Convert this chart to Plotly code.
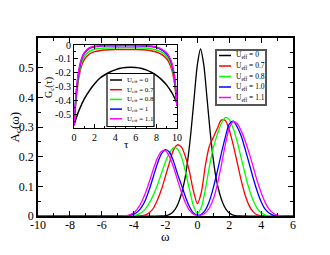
import plotly.graph_objects as go

# ---------------- data ----------------
omega = [-10, -4.75, -4.5, -4.25, -4.0, -3.75, -3.5, -3.25, -3.0, -2.75, -2.5, -2.25, -2.0,
         -1.75, -1.5, -1.25, -1.0, -0.75, -0.5, -0.25, 0.0, 0.25, 0.5, 0.75, 1.0, 1.25,
         1.5, 1.75, 2.0, 2.25, 2.5, 2.75, 3.0, 3.25, 3.5, 3.75, 4.0, 4.25, 4.5, 4.75,
         5.0, 5.25, 5.5, 6]
A_u07 = [0, 0, 0, 0, 0, 0, 0.001, 0.004, 0.012, 0.027, 0.055, 0.09, 0.135, 0.18, 0.222, 0.24,
         0.232, 0.2, 0.15, 0.085, 0.042, 0.08, 0.17, 0.235, 0.265, 0.295, 0.323, 0.322, 0.29,
         0.24, 0.18, 0.12, 0.07, 0.035, 0.014, 0.004, 0.001, 0, 0, 0, 0, 0, 0, 0]
A_u08 = [0, 0, 0, 0, 0.002, 0.005, 0.012, 0.025, 0.045, 0.072, 0.105, 0.145, 0.183, 0.213,
         0.23, 0.226, 0.2, 0.15, 0.09, 0.035, 0.008, 0.03, 0.09, 0.165, 0.23, 0.275, 0.312,
         0.332, 0.325, 0.295, 0.25, 0.195, 0.14, 0.09, 0.052, 0.026, 0.011, 0.004, 0.001, 0,
         0, 0, 0, 0]
A_u10 = [0, 0, 0, 0.002, 0.006, 0.014, 0.03, 0.055, 0.092, 0.135, 0.178, 0.21, 0.224, 0.215,
         0.185, 0.142, 0.105, 0.065, 0.032, 0.01, 0.003, 0.006, 0.02, 0.05, 0.095, 0.15, 0.21,
         0.265, 0.31, 0.32, 0.3, 0.27, 0.225, 0.177, 0.128, 0.084, 0.048, 0.023, 0.01, 0.003,
         0, 0, 0, 0]
A_u11 = [0, 0, 0.001, 0.004, 0.011, 0.025, 0.047, 0.079, 0.118, 0.16, 0.196, 0.218, 0.22,
         0.2, 0.165, 0.122, 0.08, 0.045, 0.02, 0.006, 0.002, 0.003, 0.01, 0.027, 0.057, 0.106,
         0.17, 0.24, 0.296, 0.318, 0.311, 0.287, 0.253, 0.212, 0.166, 0.119, 0.079, 0.046,
         0.023, 0.01, 0.003, 0.001, 0, 0]

omega_u0 = [-10, -2.2, -2.0, -1.8, -1.6, -1.4, -1.2, -1.0, -0.8, -0.6, -0.4, -0.2, 0.0, 0.2,
            0.4, 0.6, 0.8, 1.0, 1.2, 1.4, 1.6, 1.8, 2.0, 2.2, 2.4, 2.6, 6]
A_u0 = [0, 0, 0.001, 0.004, 0.01, 0.022, 0.043, 0.075, 0.12, 0.19, 0.285, 0.4, 0.51, 0.563,
        0.51, 0.4, 0.285, 0.19, 0.12, 0.075, 0.043, 0.022, 0.01, 0.004, 0.001, 0, 0]

tau = [0, 0.25, 0.5, 0.75, 1, 1.5, 2, 2.5, 3, 4, 5, 6, 7, 7.5, 8, 8.5, 9, 9.25, 9.5, 9.75, 10]
G_u07 = [-0.58, -0.36, -0.22, -0.145, -0.105, -0.065, -0.048, -0.041, -0.037, -0.033, -0.032,
         -0.033, -0.036, -0.041, -0.05, -0.068, -0.1, -0.13, -0.18, -0.27, -0.44]
G_u08 = [-0.58, -0.34, -0.2, -0.125, -0.085, -0.045, -0.03, -0.025, -0.022, -0.019, -0.018,
         -0.019, -0.022, -0.027, -0.036, -0.052, -0.082, -0.11, -0.16, -0.25, -0.44]
G_u10 = [-0.58, -0.32, -0.18, -0.1, -0.06, -0.025, -0.012, -0.008, -0.006, -0.005, -0.004,
         -0.005, -0.007, -0.011, -0.019, -0.035, -0.065, -0.092, -0.14, -0.23, -0.44]
G_u11 = [-0.58, -0.31, -0.17, -0.095, -0.055, -0.02, -0.009, -0.006, -0.004, -0.003, -0.003,
         -0.003, -0.005, -0.008, -0.015, -0.03, -0.058, -0.085, -0.13, -0.22, -0.44]
tau_u0 = [0, 0.25, 0.5, 1, 1.5, 2, 2.5, 3, 3.5, 4, 4.5, 5, 5.5, 6, 6.5, 7, 7.5, 8, 8.5, 9, 9.5, 10]
G_u0 = [-0.58, -0.52, -0.47, -0.39, -0.33, -0.28, -0.24, -0.215, -0.195, -0.18, -0.168, -0.162,
        -0.16, -0.162, -0.168, -0.18, -0.197, -0.22, -0.25, -0.29, -0.345, -0.42]

main_labels = ["U<sub>eff</sub> = 0", "U<sub>eff</sub> = 0.7", "U<sub>eff</sub> = 0.8",
               "U<sub>eff</sub> = 1.0", "U<sub>eff</sub> = 1.1"]
inset_labels = ["U<sub>eff</sub> = 0", "U<sub>eff</sub> = 0.7", "U<sub>eff</sub> = 0.8",
                "U<sub>eff</sub> = 1", "U<sub>eff</sub> = 1.1"]
colors = ["#000000", "#ff0000", "#00ff00", "#0000ff", "#ff00ff"]

x_ticks = [-10, -8, -6, -4, -2, 0, 2, 4, 6]
y_ticks = [0, 0.1, 0.2, 0.3, 0.4, 0.5]
tau_ticks = [0, 2, 4, 6, 8, 10]
g_ticks = [0, -0.1, -0.2, -0.3, -0.4, -0.5]

# ---------------- figure ----------------
W, H = 330, 255
OFF = 8  # page body margin
# plot-area edges as seen on the page
L, R, T, B = 38, 293, 38, 216
FONT = "Liberation Serif"


def xp(px):
    return (px - L) / (R - L)


def yp(py):
    return (B - py) / (B - T)


def lbl(v):
    return "%g" % v


fig = go.Figure()

main_series = [(omega_u0, A_u0), (omega, A_u07), (omega, A_u08), (omega, A_u10), (omega, A_u11)]
for (xs, ys), c in zip(main_series, colors):
    fig.add_trace(go.Scatter(x=xs, y=ys, mode="lines", line=dict(color=c, width=1.3, shape="spline", smoothing=0.8),
                             xaxis="x", yaxis="y", showlegend=False, hoverinfo="skip"))

inset_series = [(tau_u0, G_u0), (tau, G_u07), (tau, G_u08), (tau, G_u10), (tau, G_u11)]
for (xs, ys), c in zip(inset_series, colors):
    fig.add_trace(go.Scatter(x=xs, y=ys, mode="lines", line=dict(color=c, width=1.5, shape="spline", smoothing=0.8),
                             xaxis="x2", yaxis="y2", showlegend=False, hoverinfo="skip"))

axis_common = dict(showgrid=False, zeroline=False, showline=True, linecolor="black",
                   mirror="allticks", ticks="inside", tickcolor="black")

fig.update_layout(
    width=W, height=H, autosize=False,
    margin=dict(l=L - OFF, r=W - (R - OFF), t=T - OFF, b=H - (B - OFF), pad=0),
    paper_bgcolor="white", plot_bgcolor="white",
    font=dict(family=FONT, color="black"),
    xaxis=dict(range=[-10, 6], domain=[0, 1], anchor="y", tickmode="array", tickvals=x_ticks,
               ticktext=[lbl(v) for v in x_ticks], ticklen=5, tickwidth=1, linewidth=1.5,
               tickfont=dict(size=12, family=FONT), ticklabelstandoff=-3,
               minor=dict(tickmode="linear", tick0=0, dtick=1, ticklen=3, ticks="inside", tickcolor="black"),
               **axis_common),
    yaxis=dict(range=[0, 0.6], domain=[0, 1], anchor="x", tickmode="array", tickvals=y_ticks,
               ticktext=[lbl(v) for v in y_ticks], ticklen=5, tickwidth=1, linewidth=1.5,
               tickfont=dict(size=12, family=FONT),
               minor=dict(tickmode="linear", tick0=0, dtick=0.05, ticklen=3, ticks="inside", tickcolor="black"),
               **axis_common),
    xaxis2=dict(range=[0, 10], domain=[xp(74), xp(177)], anchor="y2", tickmode="array", tickvals=tau_ticks,
                ticktext=[lbl(v) for v in tau_ticks], ticklen=4, tickwidth=1, linewidth=1.2,
                tickfont=dict(size=10, family=FONT),
                minor=dict(tickmode="linear", tick0=0, dtick=1, ticklen=2, ticks="inside", tickcolor="black"),
                **axis_common),
    yaxis2=dict(range=[-0.6, 0], domain=[yp(128), yp(45)], anchor="x2", tickmode="array", tickvals=g_ticks,
                ticktext=[lbl(v) for v in g_ticks], ticklen=4, tickwidth=1, linewidth=1.2,
                tickfont=dict(size=10, family=FONT),
                minor=dict(tickmode="linear", tick0=0, dtick=0.05, ticklen=2, ticks="inside", tickcolor="black"),
                **axis_common),
)

shapes = []
annotations = []

# axis titles
annotations.append(dict(x=xp(165), y=yp(236), xref="paper", yref="paper", text="ω", showarrow=False,
                        font=dict(size=13, family=FONT), xanchor="center", yanchor="middle"))
annotations.append(dict(x=xp(14.5), y=yp(127), xref="paper", yref="paper", text="A<sub>c</sub>(ω)",
                        showarrow=False, textangle=-90, font=dict(size=13, family=FONT),
                        xanchor="center", yanchor="middle"))
annotations.append(dict(x=xp(126), y=yp(144), xref="paper", yref="paper", text="τ", showarrow=False,
                        font=dict(size=11, family=FONT), xanchor="center", yanchor="middle"))
annotations.append(dict(x=xp(49), y=yp(88), xref="paper", yref="paper", text="G<sub>c</sub>(τ)",
                        showarrow=False, textangle=-90, font=dict(size=10, family=FONT),
                        xanchor="center", yanchor="middle"))

# main legend
shapes.append(dict(type="rect", xref="paper", yref="paper", x0=xp(216), x1=xp(266), y0=yp(105), y1=yp(50),
                   line=dict(color="#555555", width=2), fillcolor="white", layer="above"))
main_rows = [55.5, 66, 76.5, 87, 97.5]
for py, c, t in zip(main_rows, colors, main_labels):
    shapes.append(dict(type="line", xref="paper", yref="paper", x0=xp(219), x1=xp(231), y0=yp(py), y1=yp(py),
                       line=dict(color=c, width=1.5), layer="above"))
    annotations.append(dict(x=xp(234), y=yp(py), xref="paper", yref="paper", text=t, showarrow=False,
                            font=dict(size=7.5, family=FONT), xanchor="left", yanchor="middle"))

# inset legend
shapes.append(dict(type="rect", xref="paper", yref="paper", x0=xp(107), x1=xp(154), y0=yp(126.5), y1=yp(73.5),
                   line=dict(color="black", width=1.2), fillcolor="white", layer="above"))
inset_rows = [80, 89.7, 99.4, 109.1, 118.8]
for py, c, t in zip(inset_rows, colors, inset_labels):
    shapes.append(dict(type="line", xref="paper", yref="paper", x0=xp(110), x1=xp(122), y0=yp(py), y1=yp(py),
                       line=dict(color=c, width=1.5), layer="above"))
    annotations.append(dict(x=xp(124.5), y=yp(py), xref="paper", yref="paper", text=t, showarrow=False,
                            font=dict(size=7, family=FONT), xanchor="left", yanchor="middle"))

fig.update_layout(shapes=shapes, annotations=annotations)
fig.write_html("out.html")
